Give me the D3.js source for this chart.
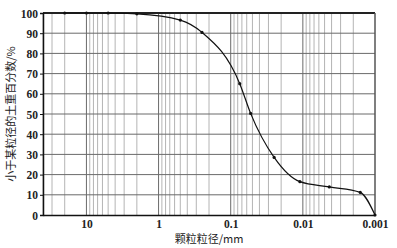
<!DOCTYPE html>
<html>
<head>
<meta charset="utf-8">
<script src="https://cdn.jsdelivr.net/npm/d3@7"></script>
<style>
  body { margin: 0; background: #fff; }
  svg { display: block; }
</style>
</head>
<body>
<svg id="chart" width="397" height="248"></svg>
<script>
// grain size (mm) and percent finer
var sizes = [20, 10, 5, 2, 0.5, 0.25, 0.075, 0.053, 0.025, 0.011, 0.0043, 0.0016, 0.001];
var finer = [100, 100, 100, 99.6, 96.5, 90.4, 65, 50.3, 28.5, 16.5, 13.9, 11.2, 0];
var xTicks = [10, 1, 0.1, 0.01, 0.001];
var xTickLabels = ["10", "1", "0.1", "0.01", "0.001"];
var yTicks = [0, 10, 20, 30, 40, 50, 60, 70, 80, 90, 100];

const margin = {top: 13, right: 22, bottom: 33, left: 43};
const width = 397 - margin.left - margin.right;
const height = 248 - margin.top - margin.bottom;

var svg = d3.select("#chart");
var g = svg.append("g").attr("transform", "translate(" + margin.left + "," + margin.top + ")");

const xscale = d3.scaleLog().domain([40, 0.001]).range([0, width]);
const yscale = d3.scaleLinear().domain([0, 100]).range([height, 0]);

// minor vertical grid lines (2..9 in each decade)
var minor = [];
[10, 1, 0.1, 0.01, 0.001].forEach(function(d){
    for (var k = 2; k <= 9; k++) {
        var v = d * k;
        if (v <= 40 && v > 0.001) minor.push(v);
    }
});

g.selectAll(".minor")
    .data(minor)
    .enter()
    .append("line")
    .attr("x1", d => xscale(d)).attr("x2", d => xscale(d))
    .attr("y1", 0).attr("y2", height)
    .attr("stroke", "#b4b4b4")
    .attr("stroke-width", 1);

g.selectAll(".major")
    .data(xTicks.slice(0, 4))
    .enter()
    .append("line")
    .attr("x1", d => xscale(d)).attr("x2", d => xscale(d))
    .attr("y1", 0).attr("y2", height)
    .attr("stroke", "#6a6a6a")
    .attr("stroke-width", 1);

g.selectAll(".hgrid")
    .data(yTicks.slice(1, 10))
    .enter()
    .append("line")
    .attr("x1", 0).attr("x2", width)
    .attr("y1", d => yscale(d)).attr("y2", d => yscale(d))
    .attr("stroke", "#6a6a6a")
    .attr("stroke-width", 1);

// frame
g.append("line").attr("x1", 0).attr("x2", width).attr("y1", 0).attr("y2", 0)
    .attr("stroke", "#222").attr("stroke-width", 2);
g.append("line").attr("x1", width).attr("x2", width).attr("y1", 0).attr("y2", height)
    .attr("stroke", "#555").attr("stroke-width", 1.5);

// axes
var yAxis = d3.axisLeft(yscale).tickValues(yTicks).tickSize(3).tickFormat(d3.format("d"));
var xAxis = d3.axisBottom(xscale).tickValues(xTicks).tickSize(0)
    .tickFormat((d, i) => xTickLabels[i]);

var ya = g.append("g").call(yAxis);
var xa = g.append("g").attr("transform", "translate(0," + height + ")").call(xAxis);

[ya, xa].forEach(function(a){
    a.select(".domain").attr("stroke", "#111").attr("stroke-width", 1.5);
    a.selectAll(".tick line").attr("stroke", "#111");
    a.selectAll("text")
        .attr("fill", "#222")
        .style("font-family", "'Liberation Serif', 'DejaVu Serif', serif")
        .style("font-weight", "bold")
        .style("font-size", "11.5px");
});
ya.selectAll("text").attr("x", -5).attr("dy", "0.35em");
xa.selectAll("text").attr("y", 5);

// curve
var pts = sizes.map((d, i) => ({x: d, y: finer[i]}));
var line = d3.line()
    .x(d => xscale(d.x))
    .y(d => yscale(d.y))
    .curve(d3.curveMonotoneX);

g.append("path")
    .datum(pts)
    .attr("d", line)
    .attr("fill", "none")
    .attr("stroke", "#111")
    .attr("stroke-width", 1.2);

g.selectAll("circle")
    .data(pts)
    .enter()
    .append("circle")
    .attr("cx", d => xscale(d.x))
    .attr("cy", d => yscale(d.y))
    .attr("r", 1.6)
    .attr("fill", "#111");

// titles
svg.append("text")
    .attr("x", margin.left + width / 2)
    .attr("y", 243)
    .attr("text-anchor", "middle")
    .attr("fill", "#222")
    .style("font-family", "'Noto Sans CJK SC', sans-serif")
    .style("font-size", "11px")
    .text("颗粒粒径/mm");

svg.append("text")
    .attr("transform", "translate(15," + (margin.top + height / 2) + ") rotate(-90)")
    .attr("text-anchor", "middle")
    .attr("fill", "#222")
    .style("font-family", "'Noto Sans CJK SC', sans-serif")
    .style("font-size", "11px")
    .text("小于某粒径的土重百分数/%");
</script>
</body>
</html>
